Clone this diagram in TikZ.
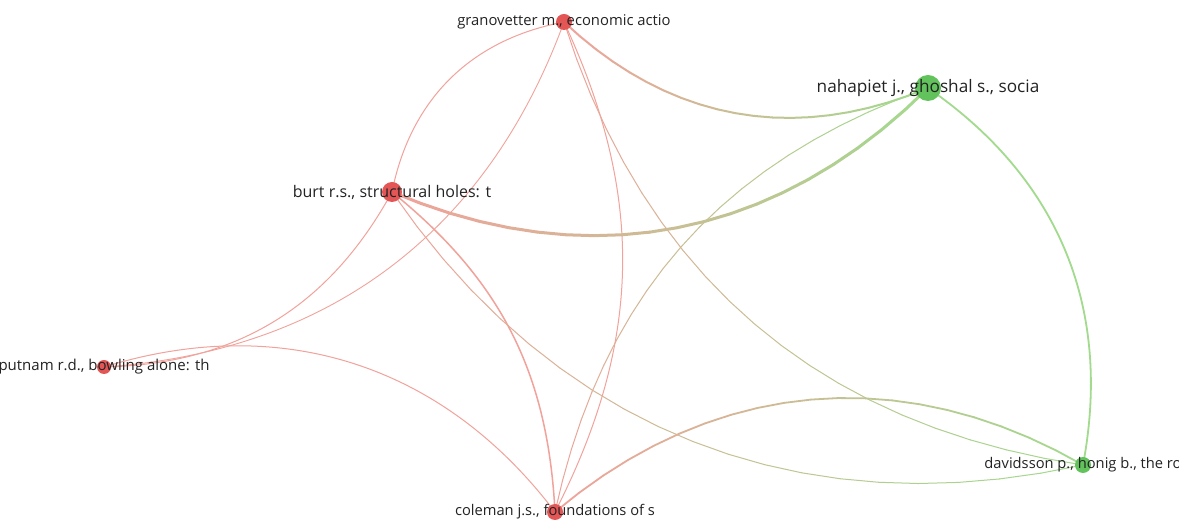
\documentclass[tikz,border=0pt]{standalone}
\usepackage{fontspec}
\setmainfont{Open Sans}
\definecolor{nred}{RGB}{228,86,86}
\definecolor{ngreen}{RGB}{98,194,92}
\definecolor{ered}{RGB}{241,162,155}
\definecolor{egreen}{RGB}{162,218,142}
\definecolor{txt}{RGB}{35,35,35}
\pgfdeclarelayer{bg}
\pgfsetlayers{bg,main}
\newcommand\gedge[6]{%
  \path (#1.center) to[#3]
    coordinate[pos=0] (q0) coordinate[pos=0.05] (q1) coordinate[pos=0.1] (q2)
    coordinate[pos=0.15] (q3) coordinate[pos=0.2] (q4) coordinate[pos=0.25] (q5)
    coordinate[pos=0.3] (q6) coordinate[pos=0.35] (q7) coordinate[pos=0.4] (q8)
    coordinate[pos=0.45] (q9) coordinate[pos=0.5] (q10) coordinate[pos=0.55] (q11)
    coordinate[pos=0.6] (q12) coordinate[pos=0.65] (q13) coordinate[pos=0.7] (q14)
    coordinate[pos=0.75] (q15) coordinate[pos=0.8] (q16) coordinate[pos=0.85] (q17)
    coordinate[pos=0.9] (q18) coordinate[pos=0.95] (q19) coordinate[pos=1] (q20)
    (#2.center);
  \foreach \i in {0,...,19}{%
    \pgfmathtruncatemacro\j{\i+1}%
    \pgfmathtruncatemacro\m{round(100*(\i+0.5)/20)}%
    \draw[line width=#6, line cap=round, color=#5!\m!#4] (q\i) -- (q\j);
  }%
}
\begin{document}
\begin{tikzpicture}[x=1pt,y=1pt,
  rn/.style={circle, fill=nred, draw=none, inner sep=0pt, minimum size=#1},
  gn/.style={circle, fill=ngreen, draw=none, inner sep=0pt, minimum size=#1},
  lab/.style={text=txt, font=\fontsize{#1}{#1}\selectfont, inner sep=0pt, anchor=center},
  redge/.style={draw=ered, line width=#1},
  gredge/.style={draw=egreen, line width=#1},
]
\useasboundingbox (0,0) rectangle (1179,522);
\clip (0,0) rectangle (1179,522);

% nodes
\node[rn=16pt] (G) at (564,500) {};
\node[gn=26pt] (N) at (928,434) {};
\node[rn=20pt] (B) at (392,330) {};
\node[rn=14pt] (P) at (104,155) {};
\node[rn=16pt] (C) at (555,10) {};
\node[gn=16pt] (D) at (1083,57) {};

\begin{pgfonlayer}{bg}
\fill[white] (0,0) rectangle (1179,522);
% red cluster links
\draw[redge=1pt] (G.center) to[bend right=34] (B.center);
\draw[redge=0.9pt] (G.center) to[bend left=33] (P.center);
\draw[redge=1pt] (B.center) to[bend left=30] (P.center);
\draw[redge=1pt] (P.center) to[bend left=35] (C.center);
\draw[redge=1pt] (G.center) to[bend left=26] (C.center);
\draw[redge=1.5pt] (B.center) to[bend left=24] (C.center);
% green cluster link
\draw[gredge=1.8pt] (N.center) to[bend left=33] (D.center);
% cross-cluster links
\gedge{G}{N}{bend right=33}{ered}{egreen}{2pt}
\gedge{G}{D}{bend right=32}{ered}{egreen}{1pt}
\gedge{B}{N}{bend right=34}{ered}{egreen}{3pt}
\gedge{B}{D}{bend right=34}{ered}{egreen}{1pt}
\gedge{C}{N}{bend left=29}{ered}{egreen}{1pt}
\gedge{C}{D}{bend left=35}{ered}{egreen}{1.8pt}
\end{pgfonlayer}

% labels
\node[lab=14.8] (Gl) at (G) {granovetter m., economic actio};
\node[lab=17.2] (Nl) at (N) {nahapiet j., ghoshal s., socia};
\node[lab=16] (Bl) at (B) {burt r.s., structural holes: t};
\node[lab=15] (Pl) at (P) {putnam r.d., bowling alone: th};
\node[lab=14.7] (Cl) at (C) {coleman j.s., foundations of s};
\node[lab=14.7] (Dl) at (D) {davidsson p., honig b., the ro};
\end{tikzpicture}
\end{document}
